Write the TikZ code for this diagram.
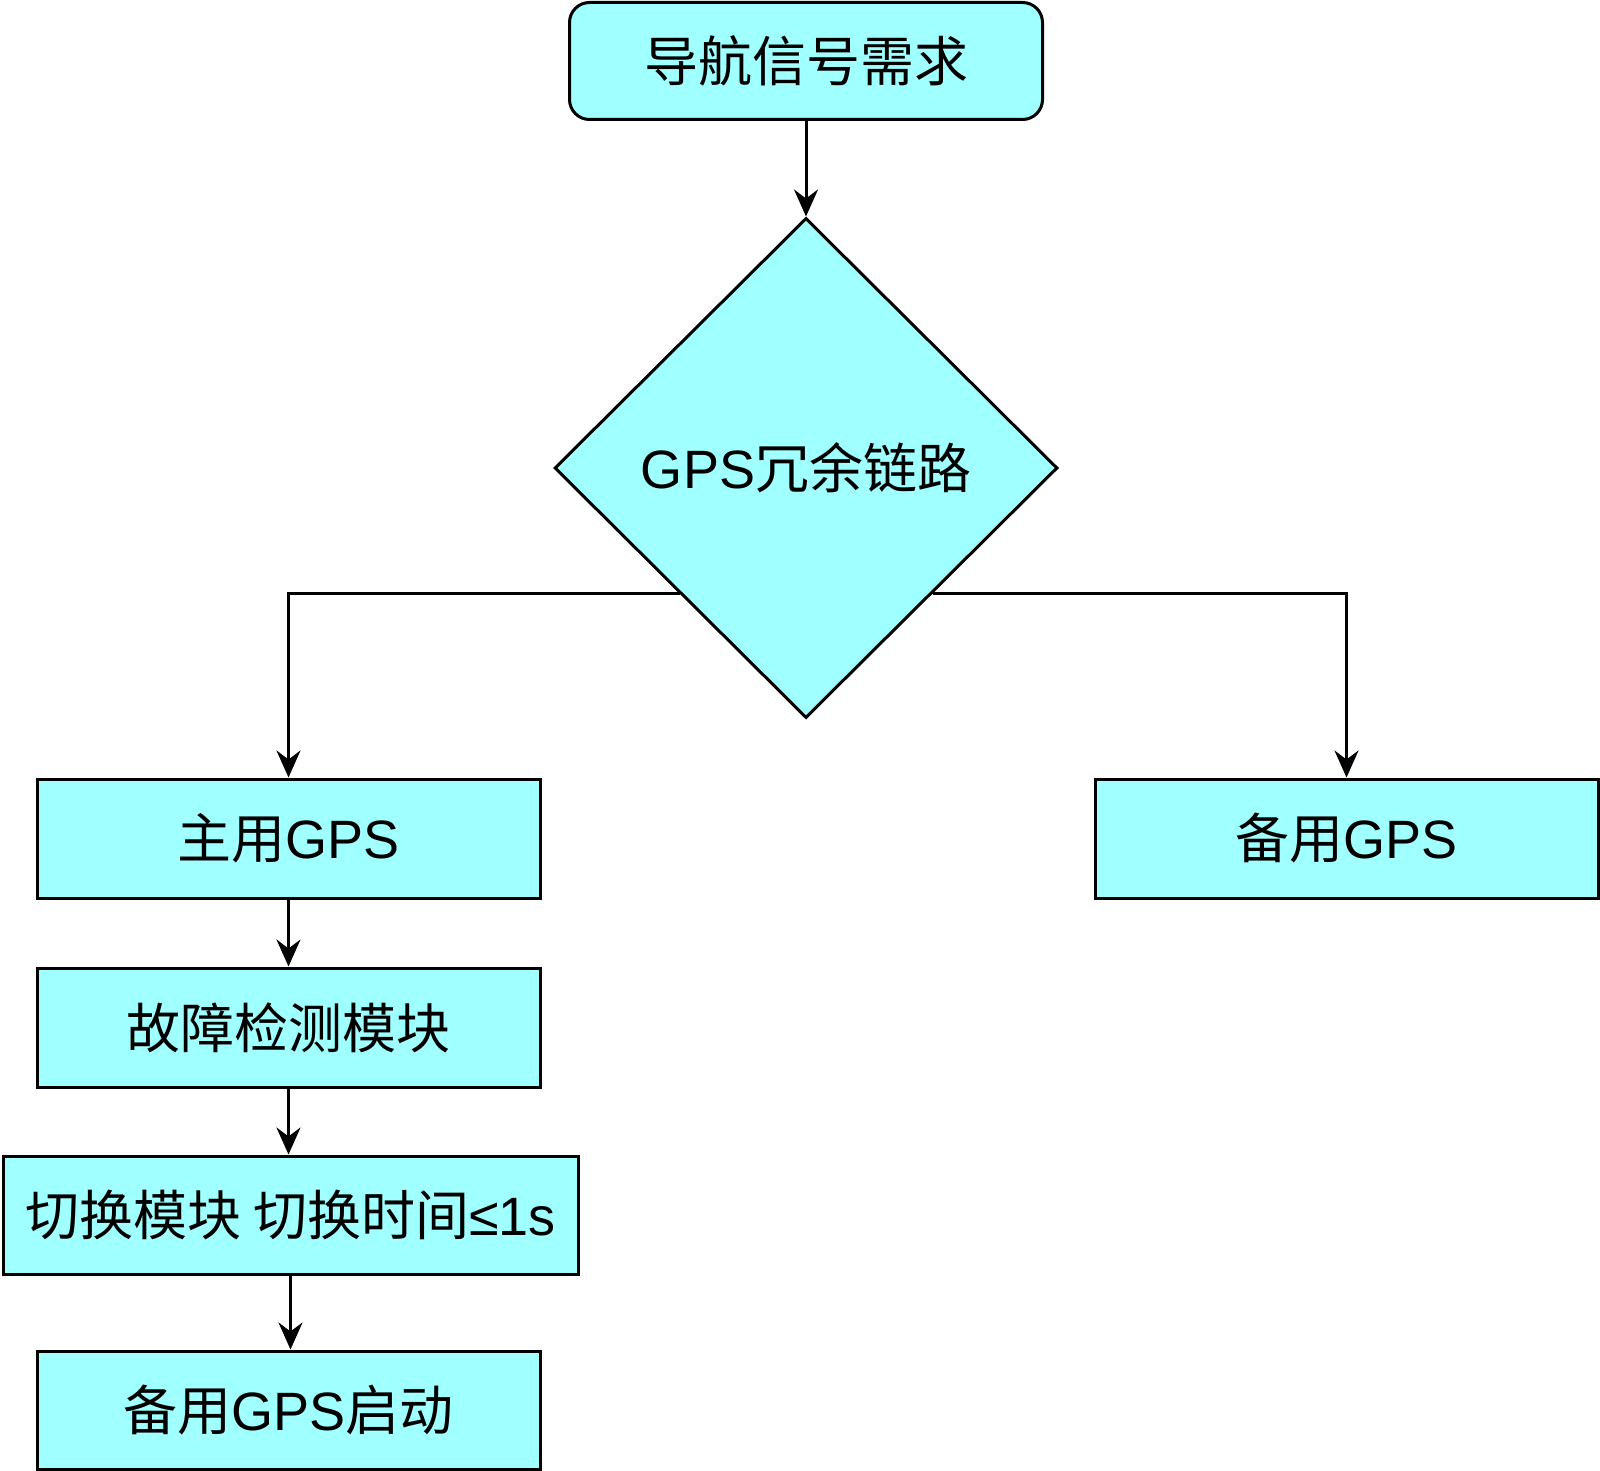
\documentclass[tikz,border=0pt]{standalone}
\usepackage{fontspec}
\setmainfont{Noto Sans CJK SC}
\newfontfamily\lat{Liberation Sans}
\usetikzlibrary{shapes.geometric,arrows.meta}
\definecolor{boxfill}{HTML}{A0FFFF}
\tikzset{
  box/.style={draw=black, line width=3pt, fill=boxfill, minimum width=503pt, minimum height=119pt, inner sep=0pt, font=\fontsize{54pt}{60pt}\selectfont},
  dec/.style={draw=black, line width=3pt, fill=boxfill, diamond, aspect=1, minimum width=503pt, minimum height=500pt, inner sep=0pt, font=\fontsize{54pt}{60pt}\selectfont},
  conn/.style={line width=3pt, -{Stealth[length=27pt,width=24pt,inset=9pt]}},
}
\begin{document}
\begin{tikzpicture}[x=1pt,y=-1pt]
\useasboundingbox (0,0) rectangle (1600,1471);
\node[box, rounded corners=20pt, minimum width=473pt, minimum height=117pt] (top) at (806,61) {导航信号需求};
\node[dec] (d) at (806,468) {{\lat GPS}冗余链路};
\node[box] (main) at (288.5,838.5) {主用{\lat GPS}};
\node[box] (backup) at (1346.5,838.5) {备用{\lat GPS}};
\node[box] (detect) at (288.5,1027.5) {故障检测模块};
\node[box, minimum width=575pt, minimum height=118pt] (switch) at (290.5,1215) {切换模块 切换时间{\lat ≤1s}};
\node[box, minimum height=118pt] (start) at (288.5,1410) {备用{\lat GPS}启动};
\draw[conn] (top.south) -- (d.north);
\draw[conn] (d.south west) -| (main.north);
\draw[conn] (d.south east) -| (backup.north);
\draw[conn] (main.south) -- (detect.north);
\draw[conn] (detect.south) -- (detect.south |- switch.north);
\draw[conn] (switch.south) -- (switch.south |- start.north);
\end{tikzpicture}
\end{document}
